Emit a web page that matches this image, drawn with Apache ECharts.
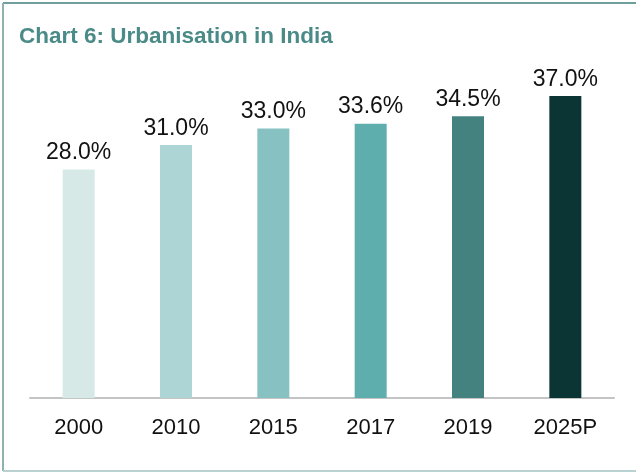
<!DOCTYPE html>
<html>
<head>
<meta charset="utf-8">
<script src="https://cdn.jsdelivr.net/npm/echarts@6/dist/echarts.min.js"></script>
<style>
html,body{margin:0;padding:0;background:#fff;}
#c{width:636px;height:473px;}
</style>
</head>
<body>
<div id="c"></div>
<script>
const categories = ["2000", "2010", "2015", "2017", "2019", "2025P"];
const values = [28.0, 31.0, 33.0, 33.6, 34.5, 37.0];
const barColors = ["#d6e9e7", "#aed5d5", "#88c1c1", "#5daead", "#448280", "#0b3535"];

const chart = echarts.init(document.getElementById('c'), null, {renderer: 'canvas'});
chart.setOption({
  backgroundColor: '#ffffff',
  animation: false,
  title: {
    text: 'Chart 6: Urbanisation in India',
    left: 14,
    top: 20,
    textStyle: {fontFamily: 'Liberation Sans', fontSize: 22.5, fontWeight: 'bold', color: '#4a8a87'}
  },
  graphic: [
    {type: 'line', shape: {x1: 3, y1: 3, x2: 636, y2: 3}, style: {stroke: '#6f9e9c', lineWidth: 2}},
    {type: 'line', shape: {x1: 3, y1: 3, x2: 3, y2: 471}, style: {stroke: '#8fb2b1', lineWidth: 2}},
    {type: 'line', shape: {x1: 3, y1: 471, x2: 636, y2: 471}, style: {stroke: '#b9d1d0', lineWidth: 2}}
  ],
  grid: {left: 30, right: 22, top: 71.4, bottom: 75, containLabel: false},
  xAxis: {
    type: 'category',
    data: categories,
    offset: 2,
    axisLine: {lineStyle: {color: '#c4c4c4', width: 2}},
    axisTick: {show: false},
    axisLabel: {fontFamily: 'Liberation Sans', fontSize: 22, color: '#111', margin: 17}
  },
  yAxis: {
    type: 'value',
    min: 0,
    max: 40,
    show: false,
    splitLine: {show: false}
  },
  series: [{
    type: 'bar',
    data: values.map((v, i) => ({value: v, itemStyle: {color: barColors[i]}})),
    barWidth: 32,
    label: {
      show: true,
      position: 'top',
      distance: 5,
      fontFamily: 'Liberation Sans',
      fontSize: 23,
      color: '#111',
      formatter: p => p.value.toFixed(1) + '%'
    }
  }]
});
</script>
</body>
</html>
